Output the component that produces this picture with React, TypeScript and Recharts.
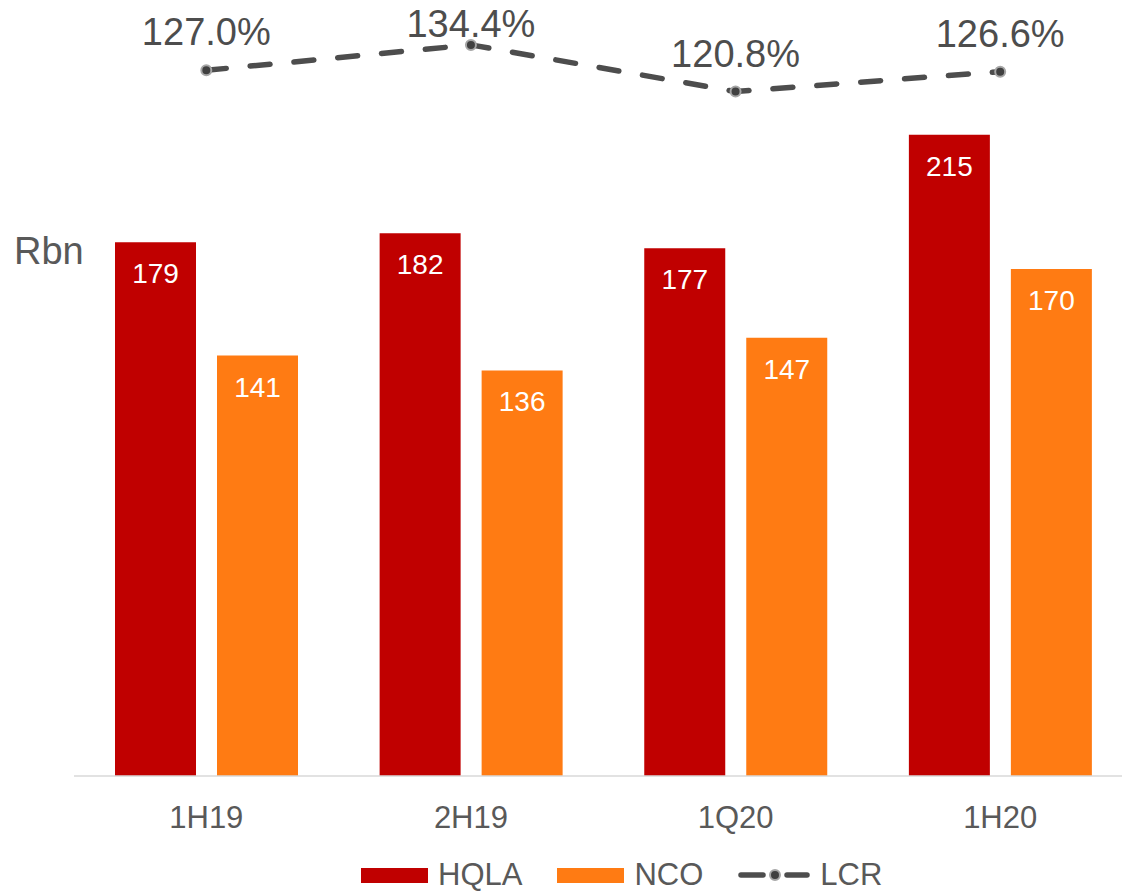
import { Bar, ComposedChart, Line, XAxis, YAxis } from 'recharts'

const periods = ['1H19', '2H19', '1Q20', '1H20']
const hqlaValues = [179, 182, 177, 215]
const ncoValues = [141, 136, 147, 170]
const lcrValues = [127.0, 134.4, 120.8, 126.6]

const HQLA_COLOR = '#C00000'
const NCO_COLOR = '#FF7B13'
const LCR_COLOR = '#4D4D4D'
const TEXT_COLOR = '#595959'
const FONT = '"Liberation Sans", Arial, sans-serif'

const data = periods.map((period, i) => ({
  period,
  HQLA: hqlaValues[i],
  NCO: ncoValues[i],
  LCR: lcrValues[i],
}))

// value printed near the top inside each bar
const renderBarLabel = (props: any) => {
  const { x, y, width, value } = props
  return (
    <text
      x={Number(x) + Number(width) / 2}
      y={Number(y) + 41}
      textAnchor="middle"
      fill="#FFFFFF"
      fontSize={28}
      fontFamily={FONT}
    >
      {value}
    </text>
  )
}

// ratio label above each point, kept inside the top edge
const renderLcrLabel = (props: any) => {
  const { x, y, value } = props
  return (
    <text
      x={x}
      y={Math.max(Number(y) - 25, 37)}
      textAnchor="middle"
      fill={LCR_COLOR}
      fontSize={38}
      fontFamily={FONT}
    >
      {Number(value).toFixed(1)}%
    </text>
  )
}

const renderLcrDot = (props: any) => {
  const { cx, cy, index } = props
  return (
    <circle
      key={`dot-${index}`}
      cx={cx}
      cy={cy}
      r={5}
      fill="#404040"
      stroke="#A6A6A6"
      strokeWidth={2}
    />
  )
}

const renderTick = (props: any) => {
  const { x, y, payload } = props
  return (
    <text
      x={x}
      y={Number(y) + 52}
      textAnchor="middle"
      fill={TEXT_COLOR}
      fontSize={31}
      fontFamily={FONT}
    >
      {payload.value}
    </text>
  )
}

function LegendItem({ name, kind }: { name: string; kind: 'HQLA' | 'NCO' | 'LCR' }) {
  let icon
  if (kind === 'LCR') {
    icon = (
      <svg width={72} height={16} style={{ display: 'block' }}>
        <line x1={3} y1={8} x2={25} y2={8} stroke={LCR_COLOR} strokeWidth={5.5} strokeLinecap="round" />
        <line x1={49} y1={8} x2={69} y2={8} stroke={LCR_COLOR} strokeWidth={5.5} strokeLinecap="round" />
        <circle cx={37} cy={8} r={5} fill="#404040" stroke="#A6A6A6" strokeWidth={2} />
      </svg>
    )
  } else {
    icon = (
      <div
        style={{
          width: 67,
          height: 15,
          background: kind === 'HQLA' ? HQLA_COLOR : NCO_COLOR,
        }}
      />
    )
  }
  return (
    <div style={{ display: 'flex', alignItems: 'center', marginRight: 35 }}>
      {icon}
      <span style={{ marginLeft: 10, fontSize: 31, color: TEXT_COLOR, lineHeight: '28px' }}>{name}</span>
    </div>
  )
}

export default function App() {
  return (
    <div
      style={{
        position: 'fixed',
        left: 0,
        top: 0,
        width: 1122,
        height: 893,
        overflow: 'hidden',
        background: '#FFFFFF',
        fontFamily: FONT,
      }}
    >
      <ComposedChart
        width={1140}
        height={893}
        data={data}
        margin={{ top: 30.5, right: 7.5, bottom: 57, left: 74 }}
        barGap={21}
      >
        <XAxis
          dataKey="period"
          height={60}
          axisLine={{ stroke: '#D9D9D9', strokeWidth: 1.5 }}
          tickLine={false}
          tickSize={0}
          tickMargin={0}
          tick={renderTick}
          interval={0}
        />
        <YAxis yAxisId="left" hide domain={[0, 250]} allowDataOverflow />
        <YAxis yAxisId="right" hide orientation="right" domain={[-78.7, 138.6]} allowDataOverflow />
        <Bar
          yAxisId="left"
          dataKey="HQLA"
          fill={HQLA_COLOR}
          barSize={81}
          isAnimationActive={false}
          label={renderBarLabel}
        />
        <Bar
          yAxisId="left"
          dataKey="NCO"
          fill={NCO_COLOR}
          barSize={81}
          isAnimationActive={false}
          label={renderBarLabel}
        />
        <Line
          yAxisId="right"
          dataKey="LCR"
          type="linear"
          stroke={LCR_COLOR}
          strokeWidth={5.5}
          strokeDasharray="20 24"
          strokeLinecap="round"
          dot={renderLcrDot}
          activeDot={false}
          isAnimationActive={false}
          label={renderLcrLabel}
        />
      </ComposedChart>

      <div
        style={{
          position: 'absolute',
          left: 14,
          top: 229,
          fontSize: 38,
          color: TEXT_COLOR,
          lineHeight: '44px',
        }}
      >
        Rbn
      </div>

      <div style={{ position: 'absolute', left: 361, top: 861, display: 'flex', alignItems: 'center' }}>
        <LegendItem name="HQLA" kind="HQLA" />
        <LegendItem name="NCO" kind="NCO" />
        <LegendItem name="LCR" kind="LCR" />
      </div>
    </div>
  )
}
